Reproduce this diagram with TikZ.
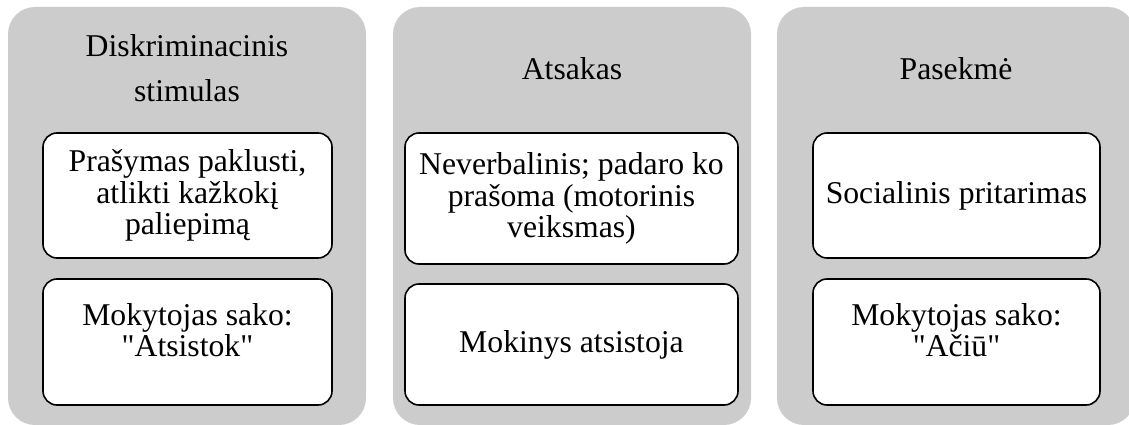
\documentclass[tikz,border=0pt]{standalone}
\usepackage{fontspec}
\setmainfont{Liberation Serif}[Ligatures=TeXOff]
\newcommand{\lowpad}{\rule[-24pt]{0pt}{24pt}}
\begin{document}
\begin{tikzpicture}[x=1pt,y=-1pt,
  panel/.style={rectangle, fill=black!20, draw=none, rounded corners=27pt, minimum width=358pt, minimum height=418pt, inner sep=0pt},
  card/.style={rectangle, draw=black, line width=1.6pt, fill=white, rounded corners=14pt, align=center, inner sep=0pt, font=\fontsize{31.7}{31.7}\selectfont},
  ttl/.style={align=center, inner sep=0pt, font=\fontsize{31.7}{45}\selectfont}]
\useasboundingbox (0,0) rectangle (1129,425);
% panels
\node[panel] (p1) at (187,216) {};
\node[panel] (p2) at (572,216) {};
\node[panel] (p3) at (956,216) {};
% titles
\node[ttl] (t1) at (187,68.5) {Diskriminacinis\\stimulas};
\node[ttl, anchor=base] (t2) at (572,80) {Atsakas};
\node[ttl, anchor=base] (t3) at (956,80) {Pasekmė};
% cards
\node[card, minimum width=289pt, minimum height=125pt] (c1a) at (187.5,195.5) {Prašymas paklusti,\\atlikti kažkokį\\paliepimą};
\node[card, minimum width=289pt, minimum height=126pt] (c1b) at (187.5,342) {Mokytojas sako:\\"Atsistok"\lowpad};
\node[card, minimum width=333pt, minimum height=131pt] (c2a) at (571.5,198.5) {Neverbalinis; padaro ko\\prašoma (motorinis\\veiksmas)};
\node[card, minimum width=333pt, minimum height=121pt] (c2b) at (571.5,344.5) {Mokinys atsistoja};
\node[card, minimum width=287pt, minimum height=125pt] (c3a) at (956.5,195.5) {Socialinis pritarimas};
\node[card, minimum width=287pt, minimum height=126pt] (c3b) at (956.5,342) {Mokytojas sako:\\"Ačiū"\lowpad};
\end{tikzpicture}
\end{document}
